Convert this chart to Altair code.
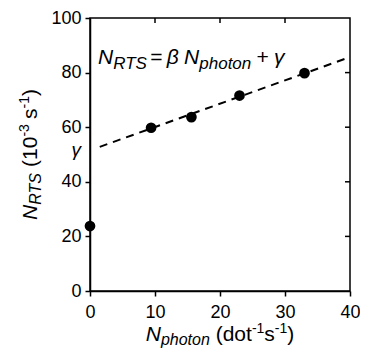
import altair as alt
import pandas as pd

# ---- data ----
x_points = [0, 9.4, 15.6, 23, 33]
y_points = [23.8, 59.8, 63.7, 71.6, 79.8]
fit_x = [1.5, 40]
fit_y = [52.8, 85.7]
gamma_y = [51.5]
x_ticks = [0, 10, 20, 30, 40]
y_ticks = [0, 20, 40, 60, 80, 100]
top_ticks = [10, 20, 30]
right_ticks = [20, 40, 60, 80]

FONT = "Liberation Sans"
W_PLOT, H_PLOT = 260, 273

# Arial / Liberation Sans advance widths (per 1000 em)
WID = {'N': 722, 'R': 722, 'T': 611, 'S': 667, ' ': 278, '(': 333, ')': 333,
       '0': 556, '1': 556, '3': 556, '-': 333, 's': 500, 'd': 556, 'o': 556,
       't': 278, 'p': 556, 'h': 556, 'n': 556, '=': 584, '+': 584,
       'β': 575, 'γ': 500}


def tw(s, size):
    return sum(WID.get(c, 556) for c in s) * size / 1000.0


def rich(pieces, sizes, shifts):
    out, pos = [], 0.0
    for txt, role, ital, gap in pieces:
        sz = sizes[role]
        pos += gap * sizes["main"]
        out.append((txt, sz, ital, pos, shifts[role]))
        pos += tw(txt, sz)
    return out, pos


dummy = alt.Data(values=[{}])


def text_layers(pieces, sizes, shifts, x0, y0, vertical=False, center=None):
    items, total = rich(pieces, sizes, shifts)
    layers = []
    if center is not None:
        if vertical:
            y0 = center + total / 2
        else:
            x0 = center - total / 2
    for txt, sz, ital, pos, sh in items:
        if vertical:
            px, py, ang = x0 + sh, y0 - pos, 270
        else:
            px, py, ang = x0 + pos, y0 + sh, 0
        kw = dict(text=txt, fontSize=sz, font=FONT, align="left",
                  baseline="alphabetic", color="black")
        if ital:
            kw["fontStyle"] = "italic"
        if ang:
            kw["angle"] = ang
        layers.append(alt.Chart(dummy).mark_text(**kw).encode(
            x=alt.value(px), y=alt.value(py)))
    return layers


xsc = alt.Scale(domain=[0, 40], nice=False)
ysc = alt.Scale(domain=[0, 100], nice=False)

pts = pd.DataFrame({"x": x_points, "y": y_points})
fit = pd.DataFrame({"x": fit_x, "y": fit_y})

axis_common = dict(domainColor="black", domainWidth=1.5, tickColor="black",
                   tickWidth=1.5, tickSize=5, labelFont=FONT, labelFontSize=18,
                   labelColor="black", grid=False, title=None,
                   labelFlush=False, labelOverlap=False)

points = alt.Chart(pts).mark_circle(size=115, color="black", opacity=1).encode(
    x=alt.X("x:Q", scale=xsc,
            axis=alt.Axis(values=x_ticks, labelPadding=7, **axis_common)),
    y=alt.Y("y:Q", scale=ysc,
            axis=alt.Axis(values=y_ticks, labelPadding=4, **axis_common)),
)

line = alt.Chart(fit).mark_line(color="black", strokeWidth=2,
                                strokeDash=[8, 6]).encode(
    x=alt.X("x:Q", scale=xsc), y=alt.Y("y:Q", scale=ysc))

gamma = alt.Chart(pd.DataFrame({"x": [0], "y": gamma_y})).mark_text(
    text="γ", fontStyle="italic", font=FONT, fontSize=19, align="right",
    baseline="middle", dx=-9, color="black").encode(
    x=alt.X("x:Q", scale=xsc), y=alt.Y("y:Q", scale=ysc))

top_t = alt.Chart(pd.DataFrame({"x": top_ticks})).mark_rule(
    color="black", strokeWidth=1.5).encode(
    x=alt.X("x:Q", scale=xsc), y=alt.value(0), y2=alt.value(5))

right_t = alt.Chart(pd.DataFrame({"y": right_ticks})).mark_rule(
    color="black", strokeWidth=1.5).encode(
    y=alt.Y("y:Q", scale=ysc), x=alt.value(W_PLOT - 5), x2=alt.value(W_PLOT))

title_sizes = {"main": 21, "sub": 16, "sup": 14}
title_shifts = {"main": 0, "sub": 4, "sup": -8}

# (text, role, italic, gap before in em of main font)
x_title = [("N", "main", True, 0), ("photon", "sub", True, 0),
           ("(dot", "main", False, 0.28), ("-1", "sup", False, 0),
           ("s", "main", False, 0), ("-1", "sup", False, 0),
           (")", "main", False, 0)]
y_title = [("N", "main", True, 0), ("RTS", "sub", True, 0),
           ("(10", "main", False, 0.28), ("-3", "sup", False, 0),
           ("s", "main", False, 0.25), ("-1", "sup", False, 0),
           (")", "main", False, 0)]
equation = [("N", "main", True, 0), ("RTS", "sub", True, 0),
            ("=", "main", False, 0.15), ("β", "main", True, 0.2),
            ("N", "main", True, 0.25), ("photon", "sub", True, 0),
            ("+", "main", False, 0.25), ("γ", "main", True, 0.25)]

layers = [line, points, gamma, top_t, right_t]
layers += text_layers(x_title, title_sizes, title_shifts, 0, 323,
                      center=W_PLOT / 2)
layers += text_layers(y_title, title_sizes, title_shifts,
                      -53, 0, vertical=True, center=H_PLOT / 2)
layers += text_layers(equation, {"main": 21, "sub": 17, "sup": 14},
                      {"main": 0, "sub": 5, "sup": -8}, 8, 46)

chart = alt.layer(*layers).properties(
    width=W_PLOT, height=H_PLOT,
    autosize=alt.AutoSizeParams(type="none"),
    padding={"left": 82, "top": 10, "right": 10, "bottom": 59},
).configure_view(stroke="black", strokeWidth=1.5)

chart.save("out.html", embed_options={"renderer": "svg", "actions": False})
